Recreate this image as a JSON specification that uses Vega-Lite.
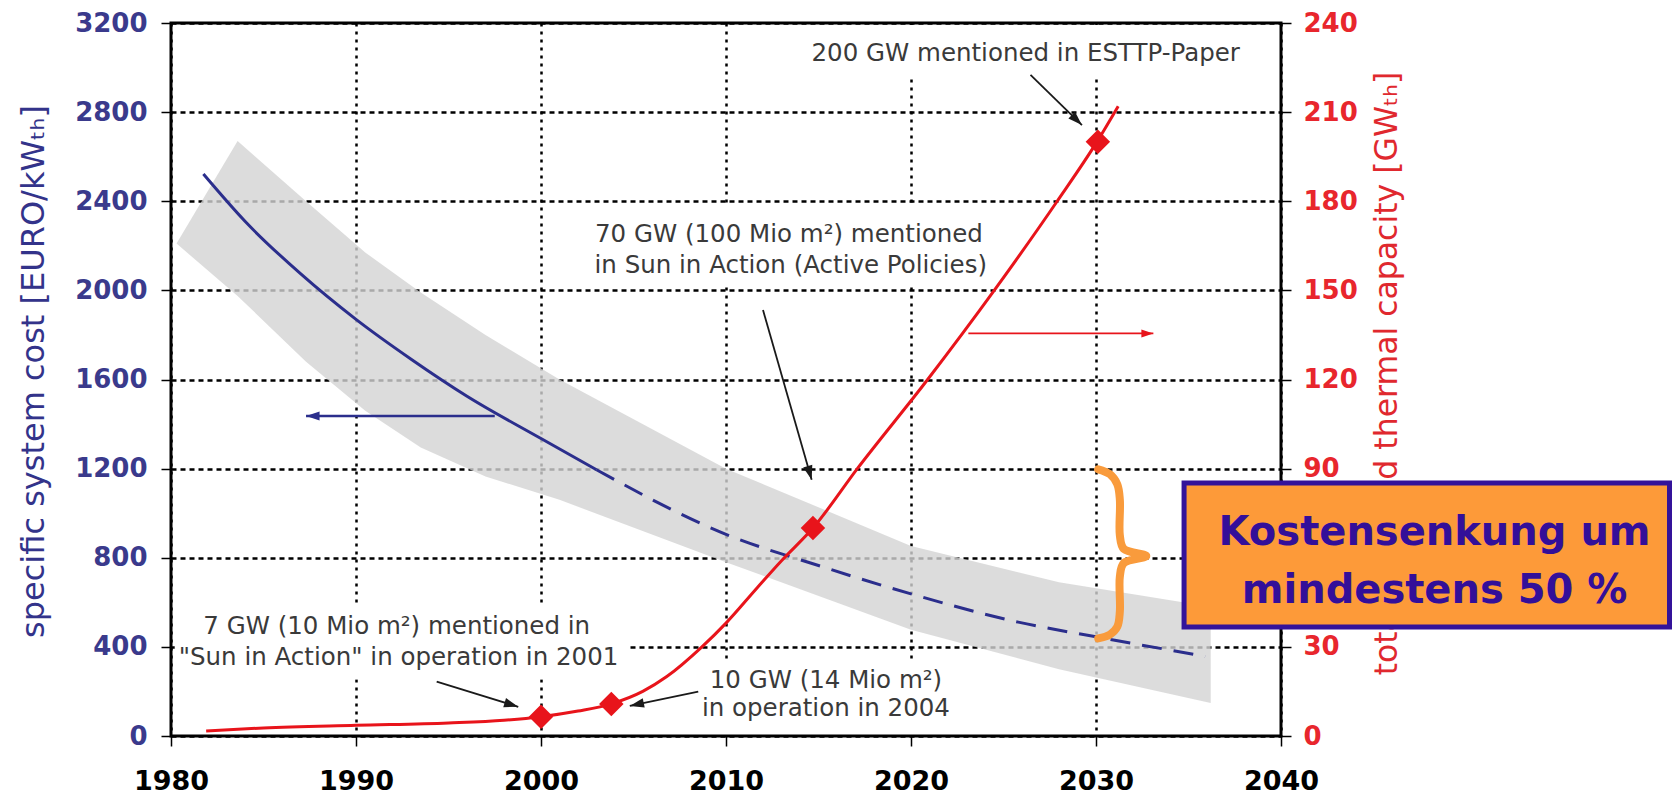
{
  "$schema": "https://vega.github.io/schema/vega-lite/v6.json",
  "width": 1110,
  "height": 713,
  "autosize": {"type": "none"},
  "padding": {"left": 171, "top": 23, "right": 391, "bottom": 60},
  "background": "white",
  "config": {
    "view": {"stroke": "black", "strokeWidth": 3},
    "axis": {
      "domain": false,
      "tickColor": "black",
      "tickSize": 10,
      "tickWidth": 1.5,
      "labelFont": "DejaVu Sans",
      "labelFontWeight": "bold",
      "labelFontSize": 26,
      "titleFont": "DejaVu Sans",
      "titleFontWeight": "normal",
      "titleFontSize": 32,
      "gridColor": "black",
      "gridWidth": 2.5,
      "gridOpacity": 1,
      "labelOverlap": false
    }
  },
  "datasets": {
    "band": [
      {"year": 1980.3, "v": 2210, "v2": 2210},
      {"year": 1983.6, "v": 2670, "v2": 1975},
      {"year": 1987.3, "v": 2400, "v2": 1680},
      {"year": 1990.5, "v": 2170, "v2": 1460},
      {"year": 1993.5, "v": 1990, "v2": 1295},
      {"year": 1997, "v": 1800, "v2": 1165},
      {"year": 2001, "v": 1600, "v2": 1060},
      {"year": 2010, "v": 1200, "v2": 780},
      {"year": 2020, "v": 853, "v2": 477},
      {"year": 2028, "v": 690, "v2": 300},
      {"year": 2036.2, "v": 580, "v2": 148}
    ],
    "whiteBoxes": [
      {"year": 2013.5, "year2": 2038.6, "v": 3191, "v2": 2967},
      {"year": 2002.7, "year2": 2024.5, "v": 2388, "v2": 2015},
      {"year": 1980.2, "year2": 2004.8, "v": 585, "v2": 255},
      {"year": 2008.6, "year2": 2022.1, "v": 341, "v2": 13}
    ],
    "costSolid": [
      {"year": 1981.75, "v": 2522},
      {"year": 1984, "v": 2310},
      {"year": 1987, "v": 2075},
      {"year": 1990, "v": 1870},
      {"year": 1993, "v": 1690},
      {"year": 1996, "v": 1525},
      {"year": 2000, "v": 1335},
      {"year": 2003, "v": 1195}
    ],
    "costDashed": [
      {"year": 2003, "v": 1195},
      {"year": 2010, "v": 905},
      {"year": 2015, "v": 765},
      {"year": 2020, "v": 638},
      {"year": 2025.8, "v": 511},
      {"year": 2030, "v": 445},
      {"year": 2035.9, "v": 358}
    ],
    "blueArrow": [
      {"year": 1987.3, "v": 1436, "year2": 1997.5, "v2": 1436}
    ],
    "arrows": [
      {"id": "a1", "year": 2029.24, "v": 2742, "year2": 2026.46, "v2": 2967},
      {"id": "a2", "year": 2014.63, "v": 1150, "year2": 2012.0, "v2": 1912},
      {"id": "a3", "year": 1998.77, "v": 131, "year2": 1994.36, "v2": 244},
      {"id": "a4", "year": 2004.8, "v": 135, "year2": 2008.5, "v2": 199}
    ],
    "notes": [
      {"label": "200 GW mentioned in ESTTP-Paper", "year": 2026.2, "v": 3031},
      {"label": "70 GW (100 Mio m²) mentioned", "year": 2013.4, "v": 2218},
      {"label": "in Sun in Action (Active Policies)", "year": 2013.5, "v": 2077},
      {"label": "7 GW (10 Mio m²) mentioned in", "year": 1992.2, "v": 460},
      {"label": "\"Sun in Action\" in operation in 2001", "year": 1992.3, "v": 318},
      {"label": "10 GW (14 Mio m²)", "year": 2015.4, "v": 215},
      {"label": "in operation in 2004", "year": 2015.4, "v": 92}
    ],
    "brace": [
      {"i": 0, "year": 2030.12, "v": 1197},
      {"i": 1, "year": 2030.75, "v": 1175},
      {"i": 2, "year": 2031.15, "v": 1130},
      {"i": 3, "year": 2031.29, "v": 1060},
      {"i": 4, "year": 2031.29, "v": 900},
      {"i": 5, "year": 2031.5, "v": 840},
      {"i": 6, "year": 2032.72, "v": 808},
      {"i": 7, "year": 2031.5, "v": 776},
      {"i": 8, "year": 2031.29, "v": 716},
      {"i": 9, "year": 2031.29, "v": 560},
      {"i": 10, "year": 2031.15, "v": 490},
      {"i": 11, "year": 2030.75, "v": 455},
      {"i": 12, "year": 2030.12, "v": 438}
    ],
    "box": [
      {"year": 2034.76, "year2": 2061.0, "v": 1135, "v2": 489}
    ],
    "boxText": [
      {"label": "Kostensenkung um", "year": 2048.3, "v": 858},
      {"label": "mindestens 50 %", "year": 2048.3, "v": 597}
    ],
    "capacity": [
      {"year": 1981.9, "v": 1.7},
      {"year": 1985, "v": 2.7},
      {"year": 1990, "v": 3.6},
      {"year": 1995, "v": 4.4},
      {"year": 1998, "v": 5.3},
      {"year": 2000, "v": 6.5},
      {"year": 2002, "v": 8.4},
      {"year": 2003.8, "v": 10.8},
      {"year": 2005.5, "v": 15},
      {"year": 2006.8, "v": 20},
      {"year": 2008.7, "v": 30},
      {"year": 2010, "v": 38},
      {"year": 2011.7, "v": 50},
      {"year": 2013, "v": 59},
      {"year": 2014.7, "v": 70},
      {"year": 2017.1, "v": 90},
      {"year": 2020.9, "v": 120},
      {"year": 2024.5, "v": 150},
      {"year": 2027.9, "v": 180},
      {"year": 2030.1, "v": 200.5},
      {"year": 2031.2, "v": 212}
    ],
    "milestones": [
      {"year": 2000, "v": 6.5},
      {"year": 2003.8, "v": 10.8},
      {"year": 2014.7, "v": 70},
      {"year": 2030.1, "v": 200}
    ],
    "redArrow": [
      {"year": 2033.1, "v": 135.5, "year2": 2023.1, "v2": 135.5}
    ]
  },
  "encoding": {
    "x": {
      "field": "year",
      "type": "quantitative",
      "scale": {"domain": [1980, 2040], "nice": false, "zero": false},
      "axis": {
        "values": [1980, 1990, 2000, 2010, 2020, 2030, 2040],
        "format": "d",
        "title": null,
        "grid": true,
        "gridDash": [3, 5],
        "labelColor": "black",
        "labelFontSize": 27,
        "labelPadding": 22,
        "labelFlush": false
      }
    }
  },
  "resolve": {"scale": {"y": "independent"}, "axis": {"y": "independent"}},
  "layer": [
    {
      "encoding": {
        "y": {
          "field": "v",
          "type": "quantitative",
          "scale": {"domain": [0, 3200], "nice": false, "zero": false},
          "axis": {
            "orient": "left",
            "values": [0, 400, 800, 1200, 1600, 2000, 2400, 2800, 3200],
            "format": "d",
            "title": "specific system cost [EURO/kWₜₕ]",
            "titleColor": "#33338a",
            "labelColor": "#3a3a8c",
            "grid": true,
            "gridDash": [5, 4],
            "labelPadding": 14,
            "titleX": -138,
            "titleY": 348,
            "titleAngle": 270,
            "titleAlign": "center",
            "titleBaseline": "middle"
          }
        }
      },
      "layer": [
        {
          "data": {"name": "band"},
          "mark": {"type": "area", "color": "#d3d3d3", "opacity": 0.8, "interpolate": "linear"},
          "encoding": {"y2": {"field": "v2"}}
        },
        {
          "data": {"name": "whiteBoxes"},
          "mark": {"type": "rect", "fill": "white", "strokeWidth": 0},
          "encoding": {"x2": {"field": "year2"}, "y2": {"field": "v2"}}
        },
        {
          "data": {"name": "costSolid"},
          "mark": {"type": "line", "color": "#2b2e8c", "strokeWidth": 3, "interpolate": "monotone"},
          "encoding": {}
        },
        {
          "data": {"name": "costDashed"},
          "mark": {"type": "line", "color": "#2b2e8c", "strokeWidth": 3, "strokeDash": [20, 12], "interpolate": "monotone"},
          "encoding": {}
        },
        {
          "data": {"name": "blueArrow"},
          "mark": {"type": "rule", "color": "#2b2e8c", "strokeWidth": 2.5},
          "encoding": {"x2": {"field": "year2"}, "y2": {"field": "v2"}}
        },
        {
          "data": {"name": "blueArrow"},
          "mark": {"type": "point", "filled": true, "color": "#2b2e8c", "opacity": 1, "shape": "M0,0L-3,-1L-3,1Z", "size": 81, "angle": 180, "strokeWidth": 0},
          "encoding": {}
        },
        {
          "data": {"name": "arrows"},
          "mark": {"type": "rule", "color": "#1a1a1a", "strokeWidth": 1.8},
          "encoding": {"x2": {"field": "year2"}, "y2": {"field": "v2"}}
        },
        {
          "data": {"name": "arrows"},
          "transform": [{"filter": "datum.id == 'a1'"}],
          "mark": {"type": "point", "filled": true, "color": "#1a1a1a", "opacity": 1, "shape": "M0,0L-3,-1L-3,1Z", "size": 90, "angle": 44, "strokeWidth": 0},
          "encoding": {}
        },
        {
          "data": {"name": "arrows"},
          "transform": [{"filter": "datum.id == 'a2'"}],
          "mark": {"type": "point", "filled": true, "color": "#1a1a1a", "opacity": 1, "shape": "M0,0L-3,-1L-3,1Z", "size": 90, "angle": 74, "strokeWidth": 0},
          "encoding": {}
        },
        {
          "data": {"name": "arrows"},
          "transform": [{"filter": "datum.id == 'a3'"}],
          "mark": {"type": "point", "filled": true, "color": "#1a1a1a", "opacity": 1, "shape": "M0,0L-3,-1L-3,1Z", "size": 90, "angle": 17, "strokeWidth": 0},
          "encoding": {}
        },
        {
          "data": {"name": "arrows"},
          "transform": [{"filter": "datum.id == 'a4'"}],
          "mark": {"type": "point", "filled": true, "color": "#1a1a1a", "opacity": 1, "shape": "M0,0L-3,-1L-3,1Z", "size": 90, "angle": 168, "strokeWidth": 0},
          "encoding": {}
        },
        {
          "data": {"name": "notes"},
          "mark": {"type": "text", "font": "DejaVu Sans", "fontSize": 24.5, "color": "#3a3a3a", "align": "center", "baseline": "alphabetic"},
          "encoding": {"text": {"field": "label"}}
        },
        {
          "data": {"name": "brace"},
          "mark": {"type": "line", "color": "#f99b3c", "strokeWidth": 8, "strokeCap": "round", "strokeJoin": "round", "interpolate": "catmull-rom"},
          "encoding": {"order": {"field": "i", "type": "quantitative"}}
        },
        {
          "data": {"name": "box"},
          "mark": {"type": "rect", "fill": "#fd9a39", "stroke": "#34139a", "strokeWidth": 5},
          "encoding": {"x2": {"field": "year2"}, "y2": {"field": "v2"}}
        },
        {
          "data": {"name": "boxText"},
          "mark": {"type": "text", "font": "DejaVu Sans", "fontWeight": "bold", "fontSize": 40, "color": "#330f99", "align": "center", "baseline": "alphabetic"},
          "encoding": {"text": {"field": "label"}}
        }
      ]
    },
    {
      "encoding": {
        "y": {
          "field": "v",
          "type": "quantitative",
          "scale": {"domain": [0, 240], "nice": false, "zero": false},
          "axis": {
            "orient": "right",
            "values": [0, 30, 60, 90, 120, 150, 180, 210, 240],
            "format": "d",
            "title": "total installed thermal capacity   [GWₜₕ]",
            "titleColor": "#e0282e",
            "titleFontSize": 31.5,
            "labelColor": "#e8262d",
            "grid": false,
            "labelPadding": 12,
            "titleX": 106,
            "titleY": 350,
            "titleAngle": 270,
            "titleAlign": "center",
            "titleBaseline": "middle"
          }
        }
      },
      "layer": [
        {
          "data": {"name": "capacity"},
          "mark": {"type": "line", "color": "#e8141b", "strokeWidth": 3, "interpolate": "monotone"},
          "encoding": {}
        },
        {
          "data": {"name": "redArrow"},
          "mark": {"type": "rule", "color": "#e8141b", "strokeWidth": 1.8},
          "encoding": {"x2": {"field": "year2"}, "y2": {"field": "v2"}}
        },
        {
          "data": {"name": "redArrow"},
          "mark": {"type": "point", "filled": true, "color": "#e8141b", "opacity": 1, "shape": "M0,0L-3,-1L-3,1Z", "size": 64, "angle": 0, "strokeWidth": 0},
          "encoding": {}
        },
        {
          "data": {"name": "milestones"},
          "mark": {"type": "point", "shape": "diamond", "filled": true, "color": "#e8141b", "opacity": 1, "size": 600, "strokeWidth": 0},
          "encoding": {}
        }
      ]
    }
  ]
}
